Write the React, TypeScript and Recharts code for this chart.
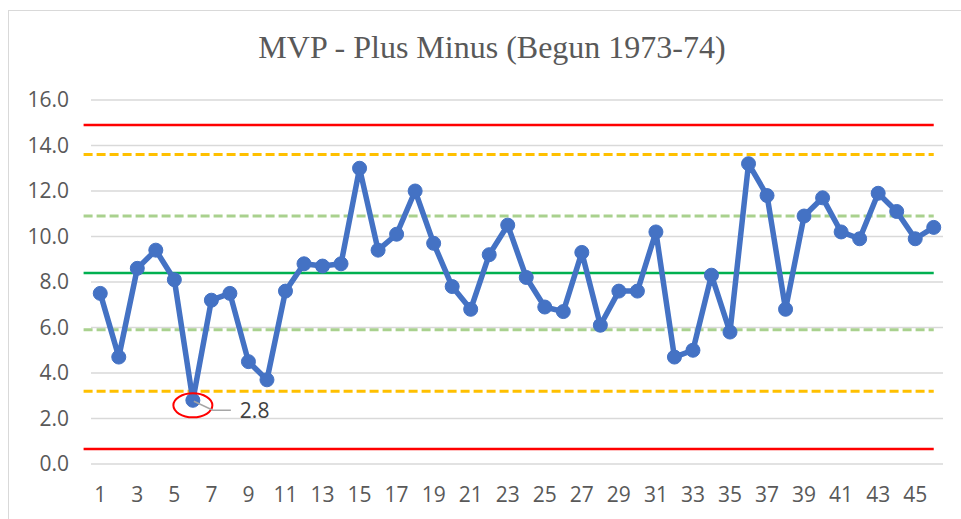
import React from 'react';
import { LineChart, Line, XAxis, YAxis, CartesianGrid, ReferenceLine, ReferenceDot } from 'recharts';

const games = [
  1, 2, 3, 4, 5, 6, 7, 8, 9, 10, 11, 12, 13, 14, 15, 16, 17, 18, 19, 20, 21, 22, 23,
  24, 25, 26, 27, 28, 29, 30, 31, 32, 33, 34, 35, 36, 37, 38, 39, 40, 41, 42, 43, 44, 45, 46,
];
const plusMinus = [
  7.5, 4.7, 8.6, 9.4, 8.1, 2.8, 7.2, 7.5, 4.5, 3.7, 7.6, 8.8, 8.7, 8.8, 13.0, 9.4, 10.1, 12.0,
  9.7, 7.8, 6.8, 9.2, 10.5, 8.2, 6.9, 6.7, 9.3, 6.1, 7.6, 7.6, 10.2, 4.7, 5.0, 8.3, 5.8, 13.2,
  11.8, 6.8, 10.9, 11.7, 10.2, 9.9, 11.9, 11.1, 9.9, 10.4,
];
const yTicks = [0, 2, 4, 6, 8, 10, 12, 14, 16];
const xTicks = [1, 3, 5, 7, 9, 11, 13, 15, 17, 19, 21, 23, 25, 27, 29, 31, 33, 35, 37, 39, 41, 43, 45];

// control limits: mean, +/- 1 sigma, +/- 2 sigma, +/- 3 sigma
const centerLine = 8.4;
const oneSigma = [10.9, 5.9];
const twoSigma = [13.6, 3.2];
const threeSigma = [14.9, 0.66];
const lineStart = 0.1;
const lineEnd = 46;

const highlight = { game: 6, value: 2.8 };

const data = games.map((g, i) => ({ game: g, value: plusMinus[i] }));

const tickStyle = { fontFamily: '"Open Sans", sans-serif', fontSize: 21, fill: '#595959' };

const seg = (y: number) => [
  { x: lineStart, y },
  { x: lineEnd, y },
];

const Callout = (props: any) => {
  const { cx, cy } = props;
  return (
    <g>
      <ellipse cx={cx} cy={cy + 5} rx={19.5} ry={12} fill="none" stroke="#ff0000" strokeWidth={2} />
      <polyline
        points={`${cx + 1},${cy + 1} ${cx + 20},${cy + 10} ${cx + 38},${cy + 10}`}
        fill="none"
        stroke="#a6a6a6"
        strokeWidth={1.5}
      />
      <text
        x={cx + 47}
        y={cy + 10}
        dominantBaseline="central"
        fontFamily='"Open Sans", sans-serif'
        fontSize={21}
        fill="#404040"
      >
        {highlight.value.toFixed(1)}
      </text>
    </g>
  );
};

const App: React.FC = () => {
  return (
    <div style={{ position: 'absolute', left: 0, top: 0, width: 961, height: 519, background: '#fff', overflow: 'hidden' }}>
      <div
        style={{
          position: 'absolute',
          left: 8,
          top: 10,
          width: 970,
          height: 530,
          border: '1.5px solid #d9d9d9',
        }}
      />
      <div
        style={{
          position: 'absolute',
          left: 0,
          top: 27,
          width: 984,
          textAlign: 'center',
          fontFamily: '"Liberation Serif", serif',
          fontSize: 32,
          color: '#595959',
          lineHeight: '40px',
        }}
      >
        MVP - Plus Minus (Begun 1973-74)
      </div>
      <div style={{ position: 'absolute', left: 0, top: 0 }}>
        <LineChart width={961} height={519} data={data} margin={{ top: 100, right: 18, bottom: 25, left: 0 }}>
          <CartesianGrid vertical={false} stroke="#d9d9d9" strokeWidth={1.5} />
          <XAxis
            dataKey="game"
            type="number"
            domain={[0.5, 46.5]}
            ticks={xTicks}
            interval={0}
            axisLine={false}
            tickLine={false}
            tickSize={0}
            tickMargin={23}
            height={30}
            tick={tickStyle}
          />
          <YAxis
            domain={[0, 16]}
            ticks={yTicks}
            tickFormatter={(v: number) => v.toFixed(1)}
            axisLine={false}
            tickLine={false}
            tickSize={0}
            tickMargin={22}
            width={91}
            tick={tickStyle}
          />
          {threeSigma.map((v) => (
            <ReferenceLine key={`r${v}`} segment={seg(v)} ifOverflow="visible" stroke="#ff0000" strokeWidth={2.5} />
          ))}
          {twoSigma.map((v) => (
            <ReferenceLine key={`o${v}`} segment={seg(v)} ifOverflow="visible" stroke="#ffc000" strokeWidth={3} strokeDasharray="9 4" />
          ))}
          {oneSigma.map((v) => (
            <ReferenceLine key={`g${v}`} segment={seg(v)} ifOverflow="visible" stroke="#a9d18e" strokeWidth={3} strokeDasharray="9 4" />
          ))}
          <ReferenceLine segment={seg(centerLine)} ifOverflow="visible" stroke="#00b050" strokeWidth={2.5} />
          <Line
            dataKey="value"
            stroke="#4472c4"
            strokeWidth={5.5}
            strokeLinejoin="round"
            dot={{ r: 7, fill: '#4472c4', stroke: '#4472c4', strokeWidth: 1 }}
            isAnimationActive={false}
          />
          <ReferenceDot x={highlight.game} y={highlight.value} ifOverflow="visible" shape={Callout} />
        </LineChart>
      </div>
    </div>
  );
};

export default App;
